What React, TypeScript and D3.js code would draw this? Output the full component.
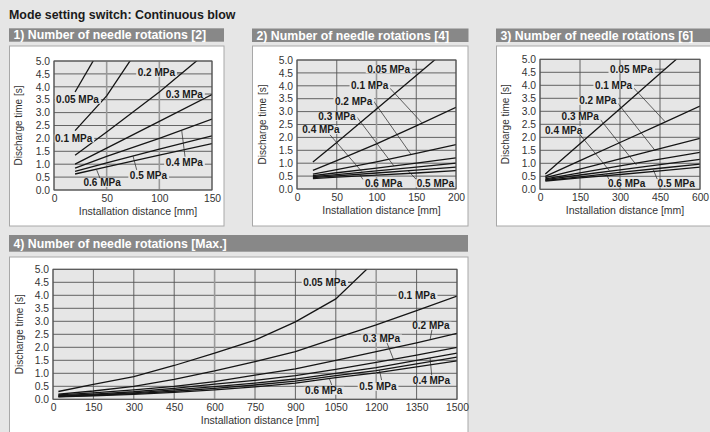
import React, {useEffect, useRef} from "react"
import * as d3 from "d3"

const W = 710
const H = 432
const FONT = "'Liberation Sans', Arial, Helvetica, sans-serif"

const mainTitle = "Mode setting switch: Continuous blow"
const xTitle = "Installation distance [mm]"
const yTitle = "Discharge time [s]"
const pressures = ["0.05 MPa", "0.1 MPa", "0.2 MPa", "0.3 MPa", "0.4 MPa", "0.5 MPa", "0.6 MPa"]
const yTicks = [0, 0.5, 1, 1.5, 2, 2.5, 3, 3.5, 4, 4.5, 5]

// 1) needle rotations [2]
const p1Distance = [20, 50, 100, 150]
const p1Times = [
    [3.8, 5.9],
    [2.3, 3.65, 6.7],
    [1.35, 2.25, 3.8, 5.5],
    [1.0, 1.62, 2.66, 3.7],
    [0.85, 1.3, 2.0, 2.75],
    [0.72, 1.05, 1.58, 2.1],
    [0.62, 0.9, 1.35, 1.8],
]
const p1Ticks = [0, 50, 100, 150]

// 2) needle rotations [4]
const p2Distance = [20, 50, 100, 150, 200]
const p2Times = [
    [1.05, 1.8, 3.1, 4.4, 5.7],
    [0.72, 1.1, 1.75, 2.45, 3.17],
    [0.58, 0.75, 1.05, 1.38, 1.72],
    [0.52, 0.63, 0.81, 1.0, 1.21],
    [0.48, 0.56, 0.7, 0.85, 1.0],
    [0.44, 0.51, 0.62, 0.73, 0.85],
    [0.4, 0.46, 0.54, 0.62, 0.71],
]
const p2Ticks = [0, 50, 100, 150, 200]

// 3) needle rotations [6]
const p3Distance = [20, 150, 300, 450, 600]
const p3Times = [
    [0.59, 1.75, 3.1, 4.45, 5.8],
    [0.5, 1.1, 1.8, 2.5, 3.2],
    [0.45, 0.78, 1.17, 1.56, 1.96],
    [0.4, 0.63, 0.9, 1.16, 1.42],
    [0.37, 0.55, 0.75, 0.95, 1.15],
    [0.34, 0.48, 0.65, 0.81, 0.97],
    [0.32, 0.44, 0.57, 0.71, 0.85],
]
const p3Ticks = [0, 150, 300, 450, 600]

// 4) needle rotations [Max.]
const p4Distance = [20, 150, 300, 450, 600, 750, 900, 1050, 1200, 1350, 1500]
const p4Times = [
    [0.3, 0.57, 0.87, 1.3, 1.78, 2.28, 2.98, 3.86, 5.35],
    [0.2, 0.32, 0.5, 0.77, 1.09, 1.45, 1.83, 2.35, 2.86, 3.41, 3.97],
    [0.17, 0.25, 0.36, 0.5, 0.68, 0.93, 1.17, 1.5, 1.83, 2.17, 2.54],
    [0.14, 0.2, 0.29, 0.42, 0.58, 0.73, 0.91, 1.15, 1.42, 1.7, 2.0],
    [0.12, 0.17, 0.25, 0.36, 0.49, 0.62, 0.78, 1.0, 1.22, 1.5, 1.78],
    [0.1, 0.15, 0.22, 0.31, 0.42, 0.55, 0.7, 0.91, 1.1, 1.36, 1.62],
    [0.09, 0.13, 0.19, 0.27, 0.36, 0.48, 0.62, 0.83, 1.02, 1.25, 1.48],
]
const p4Ticks = [0, 150, 300, 450, 600, 750, 900, 1050, 1200, 1350, 1500]

// label anchors (pressure index, distance, time) and leader lines, in data units
const p1Labels = [[0, 2, 3.5], [1, 1, 2.0], [2, 79.5, 4.55], [3, 106, 3.72], [4, 106, 1.07], [5, 72, 0.58], [6, 28, 0.28]]
const p1Leaders = [[115, 4.55, 122, 4.55], [142, 3.72, 150, 3.72], [124.4, 1.29, 121.2, 2.32], [78.5, 0.78, 75, 1.32], [43.7, 0.45, 40.5, 0.78]]

const p2Labels = [[0, 88.4, 4.64], [1, 68, 4.03], [2, 47.8, 3.41], [3, 26.8, 2.8], [4, 6.7, 2.29], [6, 85.5, 0.22], [5, 150.6, 0.22]]
const p2Leaders = [[145, 4.64, 159, 4.64], [115, 3.97, 157, 2.57], [96, 3.42, 143, 1.36], [75, 2.8, 122, 0.89], [41.5, 2.1, 81.4, 0.68], [83, 0.37, 79, 0.55], [150, 0.37, 140, 0.7]]

const p3Labels = [[0, 262.5, 4.62], [1, 206, 4.01], [2, 147, 3.4], [3, 81, 2.79], [4, 19, 2.28], [6, 255, 0.23], [5, 441, 0.23]]
const p3Leaders = [[431, 4.62, 469, 4.62], [344, 3.98, 469, 2.6], [288, 3.36, 431, 1.5], [225, 2.7, 362, 0.93], [150, 2.1, 260, 0.72], [258, 0.38, 250, 0.58], [440, 0.38, 425, 0.75]]

const p4Labels = [[0, 929, 4.5], [1, 1282, 4.0], [2, 1334, 2.83], [3, 1150, 2.34], [4, 1336, 0.74], [5, 1137, 0.48], [6, 936, 0.33]]
const p4Leaders = [[1093, 4.5, 1114, 4.5], [1407, 2.67, 1400, 2.29], [1240, 2.17, 1264, 1.54], [1406, 0.93, 1400, 1.59], [1220, 0.74, 1212, 1.12], [1035, 0.55, 1026, 0.8]]

const panels = [
    {title: "1) Number of needle rotations [2]", distance: p1Distance, times: p1Times, ticks: p1Ticks, labels: p1Labels, leaders: p1Leaders, soft: [50, 100],
        bar: [9, 28.3, 215, 13.4], box: [9.5, 46, 214.5, 180], plot: [54, 61, 212, 190], yTitleX: 18.5},
    {title: "2) Number of needle rotations [4]", distance: p2Distance, times: p2Times, ticks: p2Ticks, labels: p2Labels, leaders: p2Leaders, soft: [100],
        bar: [252, 28.5, 216.5, 13.5], box: [252.5, 46, 215.5, 180], plot: [297, 60, 456, 189], yTitleX: 262.5},
    {title: "3) Number of needle rotations [6]", distance: p3Distance, times: p3Times, ticks: p3Ticks, labels: p3Labels, leaders: p3Leaders, soft: [],
        bar: [496, 28.5, 220, 13.5], box: [496.5, 46, 220, 180], plot: [540, 59.3, 700, 189.3], yTitleX: 505},
    {title: "4) Number of needle rotations [Max.]", distance: p4Distance, times: p4Times, ticks: p4Ticks, labels: p4Labels, leaders: p4Leaders, soft: [600, 1200],
        bar: [9, 235, 459, 16.7], box: [9.5, 257, 458.5, 190], plot: [53, 269.3, 457, 399.3], yTitleX: 19},
]

const App = () => {
    const ref = useRef(null)

    useEffect(() => {
        const svg = d3.select(ref.current)
        svg.selectAll("*").remove()

        svg.append("rect").attr("width", W).attr("height", H).attr("fill", "#e6e6e6")
        svg.append("text")
            .attr("x", 9).attr("y", 18.5)
            .attr("font-family", FONT).attr("font-size", 12.4).attr("font-weight", "bold")
            .attr("fill", "#1a1a1a")
            .text(mainTitle)

        const defs = svg.append("defs")

        panels.forEach((p, i) => {
            const g = svg.append("g")
            const [bx, by, bw, bh] = p.box
            g.append("rect").attr("x", bx).attr("y", by).attr("width", bw).attr("height", bh)
                .attr("fill", "#fff").attr("stroke", "#a8a8a8").attr("stroke-width", 1)
            const [tx, ty, tw, th] = p.bar
            g.append("rect").attr("x", tx).attr("y", ty).attr("width", tw).attr("height", th).attr("fill", "#888")
            g.append("text")
                .attr("x", tx + 4.5).attr("y", ty + th / 2)
                .attr("dy", "0.36em")
                .attr("font-family", FONT).attr("font-size", 12.3).attr("font-weight", "bold")
                .attr("fill", "#fff")
                .text(p.title)

            const [l, t, r, b] = p.plot
            const x = d3.scaleLinear().domain([0, p.ticks[p.ticks.length - 1]]).range([l, r])
            const y = d3.scaleLinear().domain([0, 5]).range([b, t])

            g.append("rect").attr("x", l).attr("y", t).attr("width", r - l).attr("height", b - t).attr("fill", "#e6e6e6")

            // grid
            g.append("g").selectAll("line").data(yTicks).join("line")
                .attr("x1", l).attr("x2", r)
                .attr("y1", d => y(d)).attr("y2", d => y(d))
                .attr("stroke", "#555").attr("stroke-width", 0.9)
            g.append("g").selectAll("line").data(p.ticks).join("line")
                .attr("x1", d => x(d)).attr("x2", d => x(d))
                .attr("y1", t).attr("y2", b)
                .attr("stroke", d => p.soft.includes(d) ? "#9a9a9a" : "#555")
                .attr("stroke-width", d => p.soft.includes(d) ? 1.6 : 0.9)

            // series
            defs.append("clipPath").attr("id", `clip${i}`)
                .append("rect").attr("x", l).attr("y", t).attr("width", r - l).attr("height", b - t)
            const line = d3.line<number>()
                .x((_, j) => x(p.distance[j]))
                .y(d => y(d))
            g.append("g").attr("clip-path", `url(#clip${i})`)
                .selectAll("path").data(p.times).join("path")
                .attr("d", d => line(d))
                .attr("fill", "none").attr("stroke", "#151515").attr("stroke-width", 1.3)

            // leaders
            g.append("g").selectAll("line").data(p.leaders).join("line")
                .attr("x1", d => x(d[0])).attr("y1", d => y(d[1]))
                .attr("x2", d => x(d[2])).attr("y2", d => y(d[3]))
                .attr("stroke", "#222").attr("stroke-width", 0.7)

            // labels
            const lg = g.append("g")
            p.labels.forEach(([k, lx, ly]) => {
                const bgRect = lg.append("rect").attr("fill", "#e6e6e6")
                const txt = lg.append("text")
                    .attr("x", x(lx)).attr("y", y(ly))
                    .attr("dy", "0.35em")
                    .attr("font-family", FONT).attr("font-size", 10).attr("font-weight", "bold")
                    .attr("fill", "#1a1a1a")
                    .text(pressures[k])
                const bb = (txt.node() as SVGTextElement).getBBox()
                bgRect.attr("x", bb.x - 1.5).attr("y", bb.y + 1.5).attr("width", bb.width + 3).attr("height", bb.height - 3)
            })

            // frame
            g.append("rect").attr("x", l).attr("y", t).attr("width", r - l).attr("height", b - t)
                .attr("fill", "none").attr("stroke", "#555").attr("stroke-width", 1)

            // axes
            const ay = g.append("g").attr("transform", `translate(${l},0)`)
                .call(d3.axisLeft(y).tickValues(yTicks).tickFormat(d3.format(".1f")).tickSize(0).tickPadding(4))
            ay.select(".domain").remove()
            ay.attr("font-family", FONT).attr("font-size", 10.3)
            ay.selectAll("text").attr("fill", "#333")

            const ax = g.append("g").attr("transform", `translate(0,${b})`)
                .call(d3.axisBottom(x).tickValues(p.ticks).tickFormat(d3.format("d")).tickSize(0).tickPadding(4.5))
            ax.select(".domain").remove()
            ax.attr("font-family", FONT).attr("font-size", 10.3)
            ax.selectAll("text").attr("fill", "#333")

            g.append("text")
                .attr("x", (l + r) / 2 + 5).attr("y", b + 25)
                .attr("text-anchor", "middle")
                .attr("font-family", FONT).attr("font-size", 10.5).attr("fill", "#333")
                .text(xTitle)
            g.append("text")
                .attr("transform", `translate(${p.yTitleX},${(t + b) / 2}) rotate(-90)`)
                .attr("text-anchor", "middle").attr("dy", "0.35em")
                .attr("font-family", FONT).attr("font-size", 10).attr("fill", "#333")
                .text(yTitle)
        })
    }, [])

    return (
        <svg
            ref={ref}
            width={W}
            height={H}
            viewBox={`0 0 ${W} ${H}`}
            style={{position: "fixed", left: 0, top: 0, display: "block"}}
        />
    )
}

export default App
